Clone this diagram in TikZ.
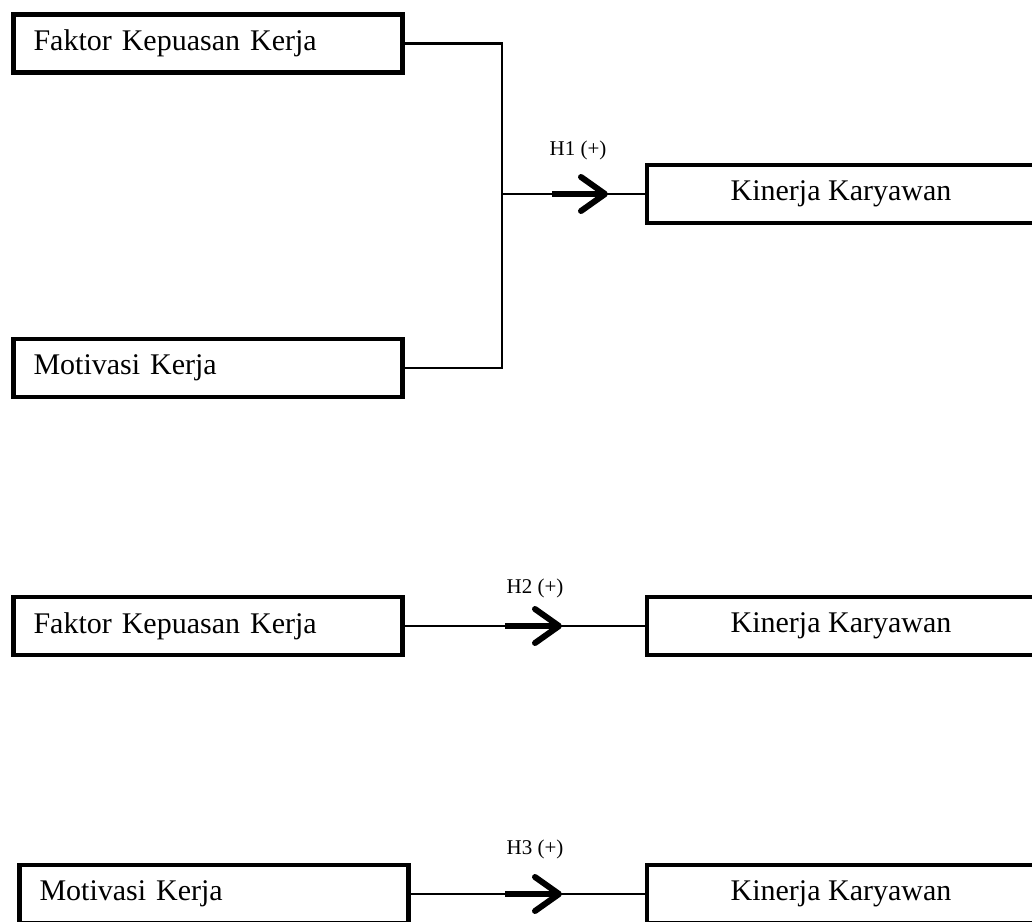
\documentclass[tikz,border=0pt]{standalone}
\usepackage{fontspec}
\setmainfont{Liberation Serif}
\usetikzlibrary{arrows.meta,positioning}

\begin{document}
\begin{tikzpicture}[
  x = 1pt, y = -1pt,
  box/.style = {rectangle, draw, line width=4.5pt, outer sep=0pt,
                minimum height=58pt, inner sep=0pt,
                font=\fontsize{30}{36}\selectfont},
  srcbox/.style = {box, text width=349pt, inner xsep=20pt, align=left},
  tgtbox/.style = {box, minimum width=388pt, align=center},
  link/.style = {line width=2.2pt},
  hyp/.style = {line width=6pt,
                -{Straight Barb[length=24pt, width=34pt, line width=6pt, round]}},
  hyplabel/.style = {font=\fontsize{21}{24}\selectfont}
]
\path[use as bounding box, clip] (0,0) rectangle (1032,921);

% ───────── 1st block (H1) ─────────
\node[srcbox, anchor=west] (fk1) at (13.5,43.5) {Faktor Kepuasan Kerja};
\node[srcbox, anchor=west] (mk1) at (13.5,368)  {Motivasi Kerja};
\node[tgtbox, anchor=west] (kk1) at (647,194)   {Kinerja Karyawan};

\coordinate (j1) at (502,194);
\draw[link] (fk1.east) -| (j1) |- (mk1.east);
\draw[link] (j1) -- (kk1.west);

\coordinate (h1s) at (552,194);
\coordinate (h1e) at (608,194);
\draw[hyp] (h1s) -- (h1e);
\node[hyplabel] (h1) at (578,150) {H1 (+)};

% ───────── 2nd block (H2) ─────────
\node[srcbox, anchor=west] (fk2) at (13.5,626) {Faktor Kepuasan Kerja};
\node[tgtbox, anchor=west] (kk2) at (647,626)  {Kinerja Karyawan};

\draw[link] (fk2) -- (kk2);

\coordinate (h2s) at (505,626);
\coordinate (h2e) at (562,626);
\draw[hyp] (h2s) -- (h2e);
\node[hyplabel] (h2) at (535,588) {H2 (+)};

% ───────── 3rd block (H3) ─────────
\node[srcbox, anchor=west] (mk3) at (19.5,894) {Motivasi Kerja};
\node[tgtbox, anchor=west] (kk3) at (647,894)  {Kinerja Karyawan};

\draw[link] (mk3) -- (kk3);

\coordinate (h3s) at (505,894);
\coordinate (h3e) at (562,894);
\draw[hyp] (h3s) -- (h3e);
\node[hyplabel] (h3) at (535,849) {H3 (+)};

\end{tikzpicture}
\end{document}
